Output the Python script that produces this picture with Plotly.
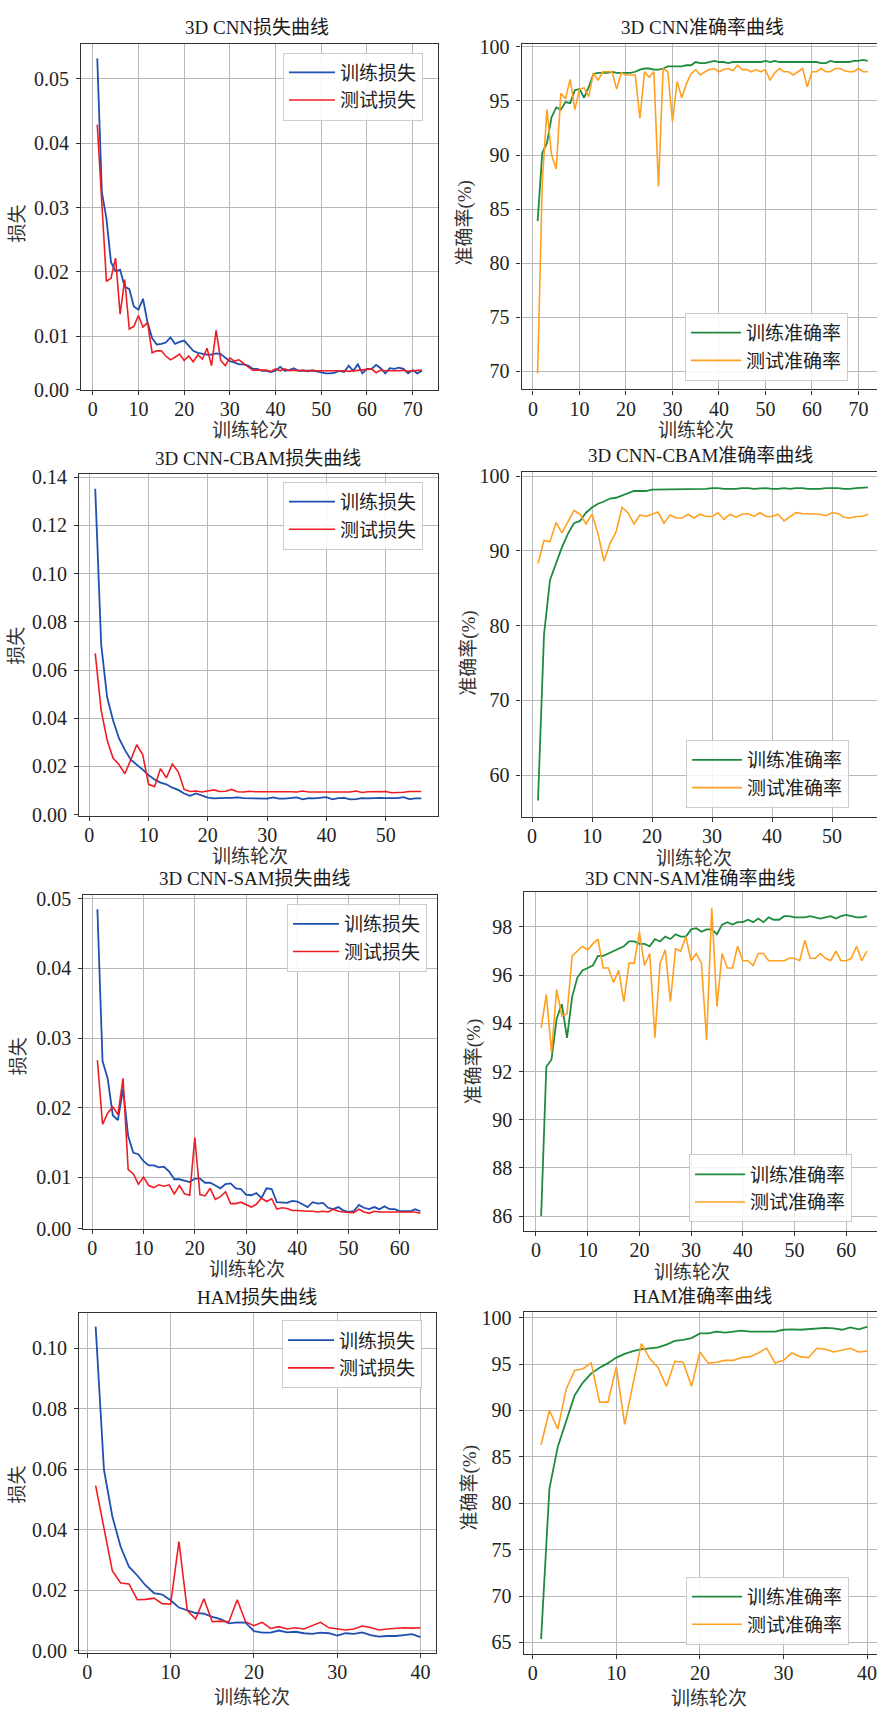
import plotly.graph_objects as go

# ---------------- data ----------------
cnn_train_loss = [0.0532, 0.0324, 0.0283, 0.0215, 0.0201, 0.0203, 0.0177, 0.0173, 0.0146, 0.0141,
                  0.0158, 0.0121, 0.0097, 0.0087, 0.0088, 0.0090, 0.0098, 0.0088, 0.0091, 0.0093,
                  0.0085, 0.0077, 0.0074, 0.0072, 0.0071, 0.0071, 0.0073, 0.0072, 0.0067, 0.0061,
                  0.0059, 0.0056, 0.0056, 0.0054, 0.0049, 0.0049, 0.0046, 0.0046, 0.0044, 0.0046,
                  0.0052, 0.0046, 0.0047, 0.0050, 0.0046, 0.0046, 0.0047, 0.0046, 0.0045, 0.0043,
                  0.0042, 0.0042, 0.0043, 0.0046, 0.0044, 0.0054, 0.0046, 0.0056, 0.0042, 0.0049,
                  0.0049, 0.0055, 0.0050, 0.0042, 0.0050, 0.0049, 0.0051, 0.0049, 0.0042, 0.0047,
                  0.0042, 0.0046]
cnn_test_loss = [0.0429, 0.0310, 0.0185, 0.0190, 0.0221, 0.0134, 0.0188, 0.0111, 0.0115, 0.0132,
                 0.0114, 0.0121, 0.0074, 0.0077, 0.0077, 0.0069, 0.0063, 0.0067, 0.0072, 0.0062,
                 0.0069, 0.0060, 0.0071, 0.0064, 0.0081, 0.0054, 0.0109, 0.0062, 0.0054, 0.0066,
                 0.0061, 0.0063, 0.0057, 0.0052, 0.0047, 0.0047, 0.0046, 0.0047, 0.0045, 0.0049,
                 0.0046, 0.0049, 0.0046, 0.0047, 0.0046, 0.0047, 0.0045, 0.0047, 0.0046, 0.0046,
                 0.0046, 0.0046, 0.0047, 0.0046, 0.0046, 0.0045, 0.0046, 0.0046, 0.0047, 0.0048,
                 0.0049, 0.0043, 0.0047, 0.0046, 0.0046, 0.0045, 0.0046, 0.0047, 0.0045, 0.0046,
                 0.0046, 0.0047]
cnn_train_acc = [83.9, 90.2, 91.1, 93.5, 94.4, 94.2, 94.9, 94.8, 96.0, 96.1,
                 95.3, 96.3, 97.5, 97.6, 97.6, 97.6, 97.7, 97.6, 97.6, 97.6,
                 97.6, 97.7, 97.9, 98.0, 98.0, 97.9, 97.9, 98.0, 98.2, 98.2,
                 98.2, 98.2, 98.3, 98.3, 98.6, 98.5, 98.5, 98.6, 98.7, 98.6,
                 98.6, 98.5, 98.6, 98.6, 98.6, 98.6, 98.6, 98.6, 98.6, 98.7,
                 98.6, 98.7, 98.6, 98.6, 98.6, 98.6, 98.6, 98.6, 98.6, 98.6,
                 98.6, 98.5, 98.5, 98.7, 98.6, 98.6, 98.6, 98.6, 98.7, 98.7,
                 98.8, 98.7]
cnn_test_acc = [69.8, 87.5, 94.2, 90.0, 88.7, 95.7, 95.2, 97.0, 94.2, 96.1,
                96.2, 95.4, 97.6, 96.9, 97.7, 97.7, 97.7, 96.1, 97.6, 97.4,
                97.4, 97.4, 93.4, 97.7, 97.2, 97.7, 87.1, 98.0, 97.7, 93.1,
                96.8, 95.3, 96.6, 97.5, 97.9, 97.4, 97.7, 97.9, 98.0, 97.7,
                97.9, 98.0, 97.8, 98.3, 97.9, 97.9, 97.7, 97.9, 97.7, 97.9,
                96.9, 97.6, 98.0, 97.7, 97.7, 97.4, 97.7, 98.0, 96.3, 97.7,
                97.7, 98.0, 97.7, 97.7, 98.0, 98.0, 97.8, 97.7, 97.7, 98.0,
                97.7, 97.7]

cbam_train_loss = [0.1352, 0.0707, 0.0488, 0.0392, 0.0317, 0.0269, 0.0228, 0.0208, 0.0187, 0.0164,
                   0.0146, 0.0133, 0.0126, 0.0112, 0.0103, 0.0088, 0.0078, 0.0088, 0.0078, 0.0071,
                   0.0068, 0.0070, 0.0070, 0.0070, 0.0072, 0.0069, 0.0068, 0.0069, 0.0068, 0.0067,
                   0.0072, 0.0067, 0.0067, 0.0068, 0.0072, 0.0064, 0.0069, 0.0068, 0.0070, 0.0073,
                   0.0064, 0.0069, 0.0070, 0.0064, 0.0065, 0.0069, 0.0068, 0.0070, 0.0070, 0.0069,
                   0.0068, 0.0069, 0.0073, 0.0065, 0.0068, 0.0068]
cbam_test_loss = [0.0669, 0.0433, 0.0310, 0.0235, 0.0208, 0.0170, 0.0228, 0.0290, 0.0249, 0.0126,
                  0.0116, 0.0191, 0.0153, 0.0210, 0.0178, 0.0105, 0.0096, 0.0098, 0.0094, 0.0098,
                  0.0103, 0.0096, 0.0097, 0.0105, 0.0095, 0.0094, 0.0097, 0.0095, 0.0096, 0.0096,
                  0.0095, 0.0095, 0.0096, 0.0095, 0.0094, 0.0098, 0.0094, 0.0094, 0.0096, 0.0096,
                  0.0095, 0.0095, 0.0097, 0.0094, 0.0098, 0.0092, 0.0095, 0.0095, 0.0095, 0.0096,
                  0.0091, 0.0091, 0.0093, 0.0096, 0.0097, 0.0096]
cbam_train_acc = [56.6, 78.8, 86.1, 88.3, 90.5, 92.3, 93.7, 94.0, 95.1, 95.8,
                  96.3, 96.6, 97.0, 97.1, 97.4, 97.8, 98.0, 98.0, 98.0, 98.2,
                  98.2, 98.2, 98.3, 98.3, 98.3, 98.3, 98.3, 98.3, 98.3, 98.4,
                  98.4, 98.3, 98.3, 98.3, 98.4, 98.4, 98.3, 98.4, 98.4, 98.3,
                  98.3, 98.4, 98.3, 98.4, 98.4, 98.3, 98.3, 98.3, 98.4, 98.4,
                  98.4, 98.3, 98.3, 98.4, 98.4, 98.5]
cbam_test_acc = [88.3, 91.4, 91.2, 93.8, 92.4, 93.9, 95.4, 94.9, 93.6, 94.9,
                 92.3, 88.6, 91.0, 92.5, 95.8, 95.1, 93.6, 94.8, 94.6, 94.9,
                 95.2, 93.7, 94.8, 94.4, 94.4, 94.9, 94.4, 94.9, 94.6, 94.6,
                 95.1, 94.2, 94.9, 94.5, 94.9, 95.0, 94.6, 95.1, 94.6, 94.6,
                 94.9, 94.0, 94.6, 95.1, 95.0, 95.0, 95.0, 94.9, 94.7, 95.1,
                 95.0, 94.5, 94.4, 94.6, 94.6, 94.9]

sam_train_loss = [0.0485, 0.0267, 0.0242, 0.0189, 0.0182, 0.0227, 0.0159, 0.0135, 0.0133, 0.0123,
                  0.0117, 0.0117, 0.0114, 0.0115, 0.0108, 0.0097, 0.0097, 0.0095, 0.0093, 0.0098,
                  0.0098, 0.0092, 0.0092, 0.0088, 0.0084, 0.0090, 0.0091, 0.0084, 0.0083, 0.0075,
                  0.0074, 0.0077, 0.0070, 0.0084, 0.0083, 0.0064, 0.0064, 0.0063, 0.0066, 0.0065,
                  0.0061, 0.0057, 0.0064, 0.0062, 0.0063, 0.0056, 0.0054, 0.0057, 0.0052, 0.0050,
                  0.0051, 0.0060, 0.0056, 0.0054, 0.0057, 0.0054, 0.0058, 0.0054, 0.0054, 0.0051,
                  0.0051, 0.0051, 0.0054, 0.0051]
sam_test_loss = [0.0268, 0.0176, 0.0192, 0.0201, 0.0190, 0.0242, 0.0111, 0.0105, 0.0090, 0.0100,
                 0.0088, 0.0085, 0.0089, 0.0087, 0.0089, 0.0076, 0.0088, 0.0076, 0.0074, 0.0157,
                 0.0075, 0.0073, 0.0084, 0.0068, 0.0072, 0.0079, 0.0062, 0.0062, 0.0064, 0.0060,
                 0.0057, 0.0061, 0.0070, 0.0065, 0.0069, 0.0054, 0.0056, 0.0055, 0.0052, 0.0052,
                 0.0051, 0.0051, 0.0051, 0.0050, 0.0051, 0.0050, 0.0054, 0.0051, 0.0050, 0.0049,
                 0.0049, 0.0054, 0.0050, 0.0048, 0.0051, 0.0050, 0.0050, 0.0050, 0.0050, 0.0051,
                 0.0051, 0.0051, 0.0050, 0.0048]
sam_train_acc = [86.0, 92.2, 92.5, 94.2, 94.8, 93.4, 95.1, 95.9, 96.2, 96.3,
                 96.4, 96.8, 96.8, 96.9, 97.0, 97.1, 97.2, 97.4, 97.4, 97.3,
                 97.3, 97.2, 97.5, 97.4, 97.6, 97.5, 97.7, 97.6, 97.6, 97.9,
                 97.95, 97.8, 97.9, 97.9, 97.7, 98.1, 98.2, 98.1, 98.2, 98.2,
                 98.3, 98.2, 98.35, 98.2, 98.4, 98.3, 98.3, 98.45, 98.45, 98.4,
                 98.4, 98.4, 98.45, 98.4, 98.35, 98.4, 98.45, 98.35, 98.45, 98.5,
                 98.45, 98.4, 98.4, 98.45]
sam_test_acc = [93.8, 95.2, 92.8, 95.4, 94.3, 94.4, 96.8, 97.0, 97.2, 97.05,
                97.3, 97.5, 96.3, 96.3, 95.7, 96.2, 94.9, 96.5, 96.5, 97.8,
                96.4, 96.9, 93.4, 96.5, 97.05, 94.9, 97.1, 97.0, 97.6, 96.6,
                96.9, 96.5, 93.3, 98.8, 94.7, 96.9, 96.3, 96.3, 97.2, 96.6,
                96.6, 96.4, 96.9, 96.9, 96.6, 96.6, 96.6, 96.6, 96.7, 96.7,
                96.6, 97.45, 96.7, 96.7, 96.9, 96.7, 96.6, 97.0, 96.6, 96.6,
                96.7, 97.2, 96.6, 97.0]

ham_train_loss = [0.1072, 0.0598, 0.0445, 0.0344, 0.0278, 0.0249, 0.0216, 0.0191, 0.0186, 0.0167,
                  0.0143, 0.0134, 0.0125, 0.0123, 0.0112, 0.0105, 0.0091, 0.0094, 0.0093, 0.0065,
                  0.0060, 0.0060, 0.0067, 0.0061, 0.0063, 0.0058, 0.0056, 0.0060, 0.0058, 0.0050,
                  0.0058, 0.0056, 0.0061, 0.0052, 0.0047, 0.0049, 0.0049, 0.0052, 0.0055, 0.0045]
ham_test_loss = [0.0546, 0.0407, 0.0265, 0.0224, 0.0221, 0.0169, 0.0170, 0.0174, 0.0156, 0.0154,
                 0.0361, 0.0134, 0.0105, 0.0172, 0.0096, 0.0098, 0.0096, 0.0169, 0.0096, 0.0083,
                 0.0094, 0.0074, 0.0080, 0.0072, 0.0076, 0.0072, 0.0083, 0.0094, 0.0076, 0.0072,
                 0.0069, 0.0072, 0.0082, 0.0077, 0.0069, 0.0072, 0.0074, 0.0076, 0.0075, 0.0076]
ham_train_acc = [65.35, 81.6, 86.1, 88.9, 91.6, 93.0, 94.0, 94.6, 95.1, 95.7,
                 96.1, 96.4, 96.6, 96.7, 96.8, 97.1, 97.5, 97.6, 97.8, 98.3,
                 98.3, 98.5, 98.4, 98.5, 98.6, 98.5, 98.5, 98.5, 98.5, 98.7,
                 98.75, 98.7, 98.75, 98.8, 98.9, 98.85, 98.7, 98.95, 98.75, 99.0]
ham_test_acc = [86.3, 90.0, 88.0, 92.3, 94.3, 94.5, 95.1, 90.9, 90.9, 94.7,
                88.5, 92.8, 97.2, 95.6, 94.6, 92.6, 95.3, 95.2, 92.6, 96.3,
                95.1, 95.2, 95.4, 95.4, 95.7, 95.8, 96.2, 96.7, 95.1, 95.4,
                96.2, 95.8, 95.7, 96.7, 96.6, 96.3, 96.5, 96.7, 96.3, 96.4]

titles = ["3D CNN损失曲线", "3D CNN准确率曲线", "3D CNN-CBAM损失曲线", "3D CNN-CBAM准确率曲线",
          "3D CNN-SAM损失曲线", "3D CNN-SAM准确率曲线", "HAM损失曲线", "HAM准确率曲线"]
x_label = "训练轮次"
loss_label = "损失"
acc_label = "准确率(%)"
loss_names = ["训练损失", "测试损失"]
acc_names = ["训练准确率", "测试准确率"]

x_ticks = [0, 10, 20, 30, 40, 50, 60, 70]
loss_ticks_a = [0.00165, 0.01, 0.02, 0.03, 0.04, 0.05]
loss_ticks_a_text = ["0.00", "0.01", "0.02", "0.03", "0.04", "0.05"]
loss_ticks_b = [0.00, 0.02, 0.04, 0.06, 0.08, 0.10, 0.12, 0.14]
loss_ticks_b_text = ["0.00", "0.02", "0.04", "0.06", "0.08", "0.10", "0.12", "0.14"]
loss_ticks_c = [0.0026, 0.01, 0.02, 0.03, 0.04, 0.05]
loss_ticks_c_text = ["0.00", "0.01", "0.02", "0.03", "0.04", "0.05"]
acc_ticks_a = [70, 75, 80, 85, 90, 95, 100]
acc_ticks_b = [60, 70, 80, 90, 100]
acc_ticks_c = [86, 88, 90, 92, 94, 96, 98]
acc_ticks_d = [65, 70, 75, 80, 85, 90, 95, 100]

# ---------------- layout ----------------
W, H = 877, 1719
C_TRAIN_LOSS = "#1f4fb0"
C_TEST_LOSS = "#f01c24"
C_TRAIN_ACC = "#1e8c3c"
C_TEST_ACC = "#ffa020"
FONT = "Liberation Serif, Noto Sans CJK SC, serif"

series = [
    (cnn_train_loss, cnn_test_loss, loss_names, (C_TRAIN_LOSS, C_TEST_LOSS)),
    (cnn_train_acc, cnn_test_acc, acc_names, (C_TRAIN_ACC, C_TEST_ACC)),
    (cbam_train_loss, cbam_test_loss, loss_names, (C_TRAIN_LOSS, C_TEST_LOSS)),
    (cbam_train_acc, cbam_test_acc, acc_names, (C_TRAIN_ACC, C_TEST_ACC)),
    (sam_train_loss, sam_test_loss, loss_names, (C_TRAIN_LOSS, C_TEST_LOSS)),
    (sam_train_acc, sam_test_acc, acc_names, (C_TRAIN_ACC, C_TEST_ACC)),
    (ham_train_loss, ham_test_loss, loss_names, (C_TRAIN_LOSS, C_TEST_LOSS)),
    (ham_train_acc, ham_test_acc, acc_names, (C_TRAIN_ACC, C_TEST_ACC)),
]

# pixel boxes: (left, right, top, bottom), x range, y range, y ticks, y tick text
panels = [
    dict(box=(81, 437.7, 36, 386), xr=[-2.56, 75.47], yr=[0.00165, 0.0555], yt=loss_ticks_a, ytt=loss_ticks_a_text),
    dict(box=(521.5, 877, 36.7, 385.7), xr=[-2.47, 74.0], yr=[68.32, 100.24], yt=acc_ticks_a, ytt=None),
    dict(box=(79, 437.7, 471.7, 816.7), xr=[-1.74, 58.77], yr=[-0.0004, 0.1411], yt=loss_ticks_b, ytt=loss_ticks_b_text),
    dict(box=(521.5, 877, 469.3, 817.7), xr=[-1.75, 57.5], yr=[54.44, 100.53], yt=acc_ticks_b, ytt=None),
    dict(box=(83.3, 437.3, 897.3, 1234.3), xr=[-1.75, 67.3], yr=[0.0026, 0.0505], yt=loss_ticks_c, ytt=loss_ticks_c_text),
    dict(box=(524.3, 877, 893.7, 1236.7), xr=[-2.26, 65.96], yr=[85.38, 99.46], yt=acc_ticks_c, ytt=None),
    dict(box=(79, 435.7, 1319.3, 1663.3), xr=[-1.0, 41.83], yr=[-0.0007, 0.1118], yt=loss_ticks_b[:6], ytt=loss_ticks_b_text[:6]),
    dict(box=(523.7, 877, 1318.7, 1664.3), xr=[-1.08, 41.19], yr=[63.76, 100.6], yt=acc_ticks_d, ytt=None),
]

# legend anchors in px: (x_left, y, yanchor)
legend_pos = [(283, 45, "top"), (685, 377, "bottom"), (283, 479, "top"), (686, 809, "bottom"),
              (287, 906, "top"), (689, 1228, "bottom"), (282, 1327, "top"), (686, 1655, "bottom")]

title_pos = [(257, 20), (702, 20), (258, 456), (700, 453), (255, 880), (690, 880), (257, 1304), (702, 1303)]
xlab_pos = [(250, 427), (696, 427), (250, 858), (694, 860), (247, 1276), (692, 1279), (252, 1708), (709, 1709)]
ylab_pos = [(18, 218), (465, 218), (17, 645), (469, 652), (18, 1060), (474, 1065), (17, 1493), (470, 1497)]


def build(use_standoff):
    fig = go.Figure()
    layout = dict(width=W, height=H, margin=dict(l=0, r=0, t=0, b=0),
                  paper_bgcolor="white", plot_bgcolor="white",
                  font=dict(family=FONT, color="#222222"), showlegend=True)
    annotations = []
    for i, (p, (tr, te, names, cols)) in enumerate(zip(panels, series)):
        k = "" if i == 0 else str(i + 1)
        leg = "legend" + k
        ep = list(range(1, len(tr) + 1))
        fig.add_trace(go.Scatter(x=ep, y=tr, mode="lines", name=names[0], legend=leg,
                                 line=dict(color=cols[0], width=1.8), xaxis="x" + k, yaxis="y" + k))
        fig.add_trace(go.Scatter(x=ep, y=te, mode="lines", name=names[1], legend=leg,
                                 line=dict(color=cols[1], width=1.6), xaxis="x" + k, yaxis="y" + k))
        l, r, t, b = p["box"]
        right_col = i % 2 == 1
        common = dict(showgrid=True, gridcolor="#b8b8b8", gridwidth=1, zeroline=False,
                      showline=True, linecolor="#333333", linewidth=1.2,
                      ticks="outside", ticklen=4, tickwidth=1, tickcolor="#333333",
                      ticklabeloverflow="allow",
                      tickfont=dict(family="Liberation Serif", size=20, color="#222222"))
        xax = dict(domain=[l / W, r / W], range=p["xr"], anchor="y" + k,
                   tickmode="array", tickvals=x_ticks, mirror=True, **common)
        if use_standoff:
            xax["ticklabelstandoff"] = -3
        layout["xaxis" + k] = xax
        yax = dict(domain=[1 - b / H, 1 - t / H], range=p["yr"], anchor="x" + k,
                   tickmode="array", tickvals=p["yt"], mirror=not right_col, **common)
        if use_standoff:
            yax["ticklabelstandoff"] = 3
        if p["ytt"] is not None:
            yax["ticktext"] = p["ytt"]
        layout["yaxis" + k] = yax
        lx, ly, ya = legend_pos[i]
        layout[leg] = dict(x=lx / W, y=1 - ly / H, xanchor="left", yanchor=ya,
                           bgcolor="rgba(255,255,255,0.85)", bordercolor="#cccccc", borderwidth=1,
                           font=dict(family="Noto Sans CJK SC", size=19, color="#222222"),
                           itemwidth=(50 if right_col else 46), tracegroupgap=0)
        tx, ty = title_pos[i]
        annotations.append(dict(text=titles[i], x=tx / W, y=1 - ty / H, xref="paper", yref="paper",
                                xanchor="center", yanchor="middle", showarrow=False,
                                font=dict(family=FONT, size=19, color="#1a1a1a")))
        xx, xy = xlab_pos[i]
        annotations.append(dict(text=x_label, x=xx / W, y=1 - xy / H, xref="paper", yref="paper",
                                xanchor="center", yanchor="middle", showarrow=False,
                                font=dict(family=FONT, size=19, color="#333333")))
        yx, yy = ylab_pos[i]
        annotations.append(dict(text=acc_label if right_col else loss_label, x=yx / W, y=1 - yy / H,
                                xref="paper", yref="paper", xanchor="center", yanchor="middle",
                                showarrow=False, textangle=-90,
                                font=dict(family=FONT, size=19, color="#333333")))
    layout["annotations"] = annotations
    fig.update_layout(**layout)
    return fig


try:
    fig = build(True)
except Exception:
    fig = build(False)

fig.write_html("out.html", config={"displayModeBar": False},
               post_script="document.body.style.margin='0';document.body.style.overflow='hidden';")
